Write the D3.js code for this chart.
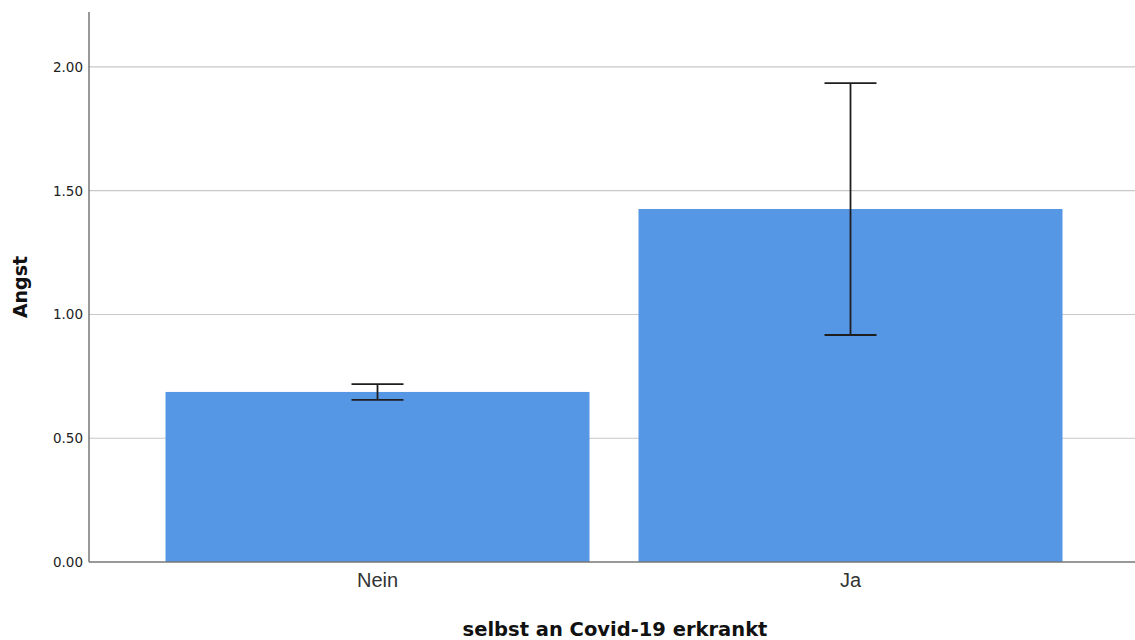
<!DOCTYPE html>
<html><head><meta charset="utf-8">
<script src="https://cdn.jsdelivr.net/npm/d3@7"></script>
<style>body{margin:0;background:#fff}</style>
</head><body>
<svg id="c" width="1135" height="640"></svg>
<script>
const categories = ["Nein", "Ja"];
const means = [0.687, 1.426];
const lower = [0.655, 0.917];
const upper = [0.719, 1.935];
const yTicks = [0, 0.5, 1.0, 1.5, 2.0];

(function () {
const svg = d3.select("#c");
const mLeft = 89, mRight = 1135, mTop = 12, mBottom = 562;
const x = d3.scaleBand().domain(categories).range([mLeft + 2, mRight + 2]).paddingInner(0.1036).paddingOuter(0.1575);
const y = d3.scaleLinear().domain([0, 2.222]).range([mBottom, mTop]);

// gridlines
svg.append("g").selectAll("line").data(yTicks.filter(d => d > 0)).join("line")
  .attr("x1", mLeft).attr("x2", mRight).attr("y1", d => y(d)).attr("y2", d => y(d))
  .attr("stroke", "#c8c8c8").attr("stroke-width", 1.2);

// bars
svg.append("g").selectAll("rect").data(categories).join("rect")
  .attr("x", d => x(d)).attr("width", x.bandwidth())
  .attr("y", (d, i) => y(means[i])).attr("height", (d, i) => y(0) - y(means[i]))
  .attr("fill", "#5596e5");

// error bars
const capW = 52;
const eb = svg.append("g").attr("stroke", "#1e1e1e").attr("stroke-width", 1.8);
categories.forEach((c, i) => {
  const cx = x(c) + x.bandwidth() / 2;
  eb.append("line").attr("x1", cx).attr("x2", cx).attr("y1", y(lower[i])).attr("y2", y(upper[i]));
  eb.append("line").attr("x1", cx - capW/2).attr("x2", cx + capW/2).attr("y1", y(upper[i])).attr("y2", y(upper[i]));
  eb.append("line").attr("x1", cx - capW/2).attr("x2", cx + capW/2).attr("y1", y(lower[i])).attr("y2", y(lower[i]));
});

// y axis
const ya = svg.append("g").attr("transform", `translate(${mLeft},0)`)
  .call(d3.axisLeft(y).tickValues(yTicks).tickFormat(d3.format(".2f")).tickSize(0).tickPadding(6));
ya.select(".domain").attr("stroke", "#555").attr("stroke-width", 1.2).attr("d", `M0,${mTop}V${mBottom}`);
ya.selectAll("text").attr("font-family", "DejaVu Sans, sans-serif").attr("font-size", 13.5).attr("fill", "#222");

// x axis
const xa = svg.append("g").attr("transform", `translate(0,${mBottom})`)
  .call(d3.axisBottom(x).tickSize(0).tickPadding(11));
xa.select(".domain").attr("stroke", "#777").attr("stroke-width", 1.5).attr("d", `M${mLeft},0H${mRight}`);
xa.selectAll("text").attr("font-family", "Liberation Sans, Arial, sans-serif").attr("font-size", 20).attr("fill", "#333");

// titles
svg.append("text").attr("x", 615).attr("y", 636).attr("text-anchor", "middle")
  .attr("font-family", "DejaVu Sans, sans-serif").attr("font-weight", "bold").attr("font-size", 19.5).attr("fill", "#111")
  .text("selbst an Covid-19 erkrankt");
svg.append("text").attr("transform", `translate(27,${(mTop+mBottom)/2}) rotate(-90)`).attr("text-anchor", "middle")
  .attr("font-family", "DejaVu Sans, sans-serif").attr("font-weight", "bold").attr("font-size", 19).attr("fill", "#111")
  .text("Angst");
})();
</script>
</body></html>
